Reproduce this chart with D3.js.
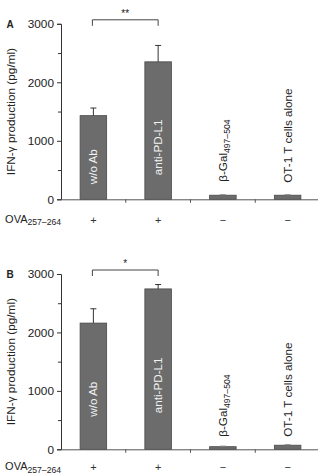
<!DOCTYPE html>
<html>
<head>
<meta charset="utf-8">
<script src="https://cdn.jsdelivr.net/npm/d3@7"></script>
<style>
  body { margin: 0; background: #fff; }
  svg { display: block; font-family: "Liberation Sans", Arial, sans-serif; }
</style>
</head>
<body>
<div id="chart"></div>
<script>
// data
const categories = ['w/o Ab', 'anti-PD-L1', 'b-Gal', 'OT-1'];
const ovaSigns = ['+', '+', '\u2212', '\u2212'];
const yTicks = [0, 1000, 2000, 3000];
const yMinorTicks = [500, 1500, 2500];
const valuesA = [1430, 2350, 70, 70];
const errorsA = [130, 280, 0, 0];
const valuesB = [2160, 2745, 45, 70];
const errorsB = [245, 75, 0, 0];
const sigA = '**';
const sigB = '*';

const W = 318, H = 476;
const fill = '#6c6c6c', edge = '#4a4a4a', ink = '#333';

const svg = d3.select('#chart').append('svg')
  .attr('width', W)
  .attr('height', H);

const x = d3.scaleBand()
  .domain(categories)
  .range([61, 320])
  .paddingInner(0.59)
  .paddingOuter(0.295);

// panel layout: baseline / top pixel, label offsets above baseline
const panels = [
  { letter: 'A', values: valuesA, errors: errorsA, sig: sigA, y0: 199.3, y1: 23.8, rowOff: 24.5, labelOff: [15, 24, 17.5, 16.5] },
  { letter: 'B', values: valuesB, errors: errorsB, sig: sigB, y0: 449.3, y1: 274, rowOff: 22, labelOff: [32.5, 36, 12.5, 12.5] }
];

panels.forEach(p => drawPanel(p));

function drawPanel(p) {
  const y = d3.scaleLinear().domain([0, 3000]).range([p.y0, p.y1]);
  const g = svg.append('g');

  // bars
  g.selectAll('.bar')
    .data(p.values)
    .enter().append('rect')
    .attr('x', (d, i) => x(categories[i]))
    .attr('y', d => y(d))
    .attr('width', x.bandwidth())
    .attr('height', d => y(0) - y(d))
    .style('fill', fill)
    .style('stroke', edge)
    .style('stroke-width', 0.8);

  // error bars (upper only)
  p.values.forEach((v, i) => {
    const cx = x(categories[i]) + x.bandwidth() / 2;
    const e = p.errors[i];
    if (e > 0) {
      g.append('line')
        .attr('x1', cx).attr('x2', cx)
        .attr('y1', y(v)).attr('y2', y(v + e))
        .style('stroke', ink).style('stroke-width', 1);
      g.append('line')
        .attr('x1', cx - 3).attr('x2', cx + 3)
        .attr('y1', y(v + e)).attr('y2', y(v + e))
        .style('stroke', ink).style('stroke-width', 1);
    } else {
      g.append('line')
        .attr('x1', cx - 3).attr('x2', cx + 3)
        .attr('y1', y(v) - 0.5).attr('y2', y(v) - 0.5)
        .style('stroke', '#888').style('stroke-width', 1);
    }
  });

  // y axis
  const yAxis = g.append('g')
    .attr('transform', 'translate(61,0)')
    .call(d3.axisLeft(y).tickValues(yTicks).tickSize(4).tickPadding(3).tickFormat(d3.format('d')));
  yAxis.select('.domain').attr('stroke', ink);
  yAxis.selectAll('.tick line').attr('stroke', ink);
  yAxis.selectAll('.tick text')
    .attr('fill', '#222')
    .style('font-size', '11.8px')
    .style('font-family', '"Liberation Sans", Arial, sans-serif');
  g.selectAll('.minor')
    .data(yMinorTicks)
    .enter().append('line')
    .attr('x1', 58).attr('x2', 61)
    .attr('y1', d => y(d) + 0.5).attr('y2', d => y(d) + 0.5)
    .style('stroke', ink);

  // x axis line with ticks at category boundaries
  g.append('line')
    .attr('x1', 61).attr('x2', 320)
    .attr('y1', y(0) + 0.5).attr('y2', y(0) + 0.5)
    .style('stroke', '#555');
  g.selectAll('.xtick')
    .data(categories.slice(1))
    .enter().append('line')
    .attr('x1', d => x(d) - x.step() * x.paddingInner() / 2)
    .attr('x2', d => x(d) - x.step() * x.paddingInner() / 2)
    .attr('y1', y(0)).attr('y2', y(0) + 3.5)
    .style('stroke', '#555');

  // y label
  g.append('text')
    .attr('transform', `translate(15,${(p.y0 + p.y1) / 2}) rotate(-90)`)
    .attr('text-anchor', 'middle')
    .style('font-size', '11.8px')
    .style('fill', '#222')
    .text('IFN-\u03b3 production (pg/ml)');

  // panel letter
  g.append('text')
    .attr('x', 6.5).attr('y', p.y1 + 3.7)
    .style('font-size', '10px')
    .style('font-weight', 'bold')
    .style('fill', '#222')
    .text(p.letter);

  // bar labels (rotated)
  categories.forEach((c, i) => {
    const cx = x(c) + x.bandwidth() / 2 + 4;
    const t = g.append('text')
      .attr('transform', `translate(${cx},${y(0) - p.labelOff[i]}) rotate(-90)`)
      .attr('text-anchor', 'start')
      .style('font-size', '11.7px')
      .style('fill', i < 2 ? '#f2f2f2' : '#222');
    if (c === 'b-Gal') {
      t.append('tspan').text('\u03b2-Gal');
      t.append('tspan').attr('dy', 3).style('font-size', '8.6px').text('497\u2013504');
    } else if (c === 'OT-1') {
      t.text('OT-1 T cells alone');
    } else {
      t.text(c);
    }
  });

  // OVA row
  const rowY = y(0) + p.rowOff;
  const ova = g.append('text')
    .attr('x', 61).attr('y', rowY - 1)
    .attr('text-anchor', 'end')
    .style('font-size', '11px')
    .style('fill', '#222');
  ova.append('tspan').text('OVA');
  ova.append('tspan').attr('dy', 2.5).style('font-size', '8.6px').text('257\u2013264');

  g.selectAll('.sign')
    .data(ovaSigns)
    .enter().append('text')
    .attr('x', (d, i) => x(categories[i]) + x.bandwidth() / 2)
    .attr('y', rowY)
    .attr('text-anchor', 'middle')
    .style('font-size', '11px')
    .style('fill', '#333')
    .text(d => d);

  // significance bracket
  const bx1 = x(categories[0]) + x.bandwidth() / 2 - 1;
  const bx2 = x(categories[1]) + x.bandwidth() / 2;
  const by = p.y1 - 4;
  g.append('path')
    .attr('d', `M${bx1},${by + 6}V${by}H${bx2}V${by + 6}`)
    .style('fill', 'none')
    .style('stroke', '#444')
    .style('stroke-width', 1);
  g.append('text')
    .attr('x', (bx1 + bx2) / 2)
    .attr('y', by - 3)
    .attr('text-anchor', 'middle')
    .style('font-size', '10px')
    .style('fill', '#222')
    .text(p.sig);
}
</script>
</body>
</html>
